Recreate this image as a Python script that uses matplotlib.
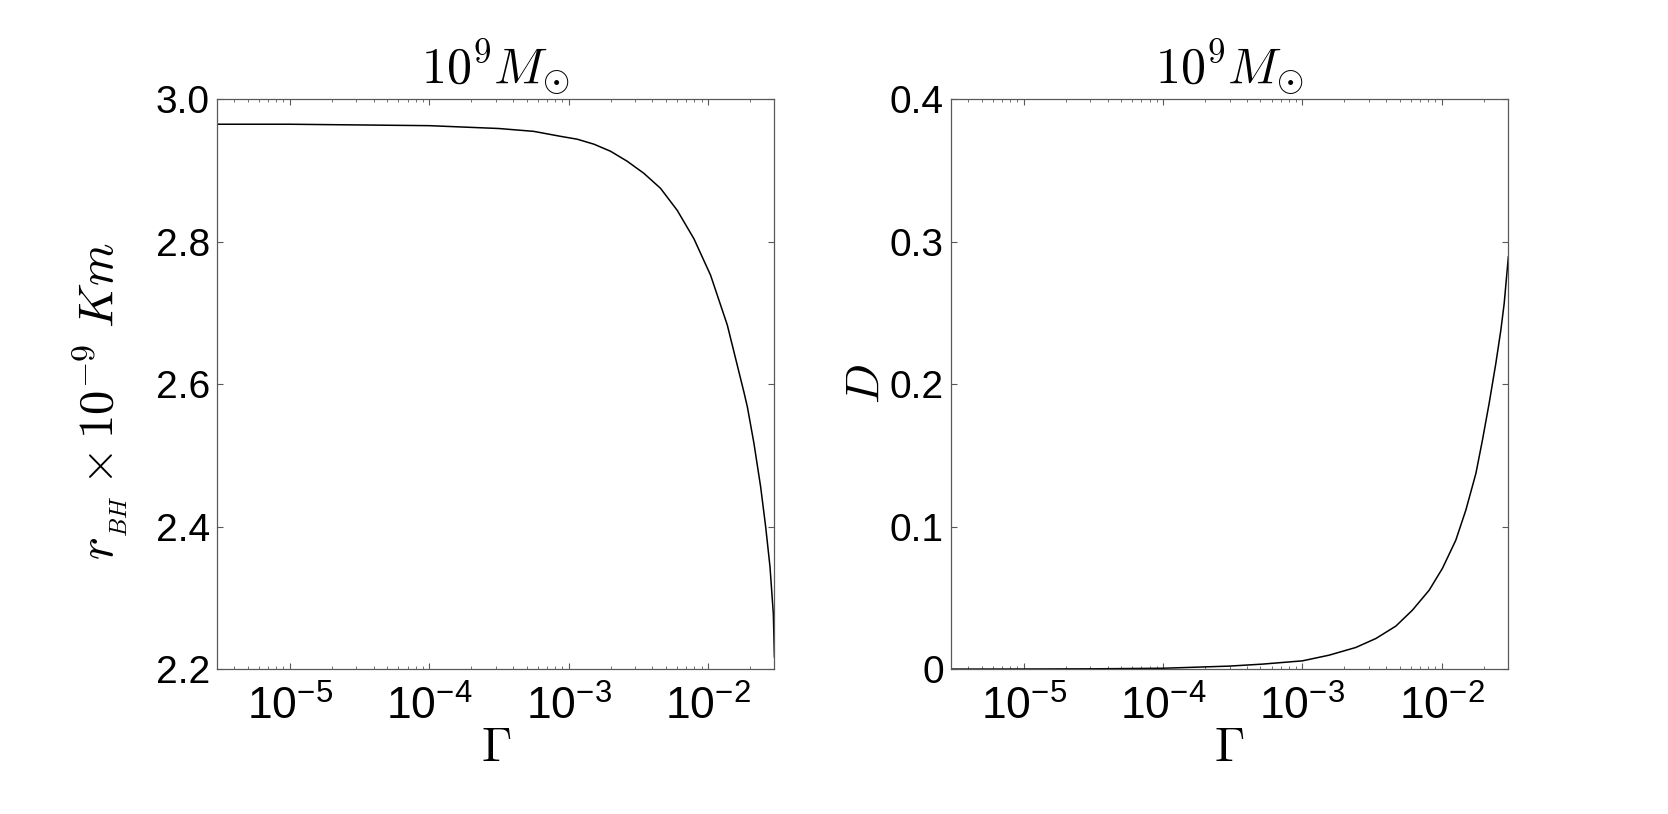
import numpy as np
import matplotlib
matplotlib.use("Agg")
import matplotlib.pyplot as plt

plt.rcParams['font.family'] = ['Liberation Sans', 'DejaVu Sans']
plt.rcParams['mathtext.fontset'] = 'custom'
plt.rcParams['mathtext.rm'] = 'Liberation Sans'
plt.rcParams['mathtext.it'] = 'Liberation Sans:italic'

# values (x given as log10 of Gamma)
log_gamma_r = [-5.523, -5.0, -4.5, -4.0, -3.5, -3.25, -3.057, -2.938, -2.818,
               -2.698, -2.579, -2.459, -2.340, -2.220, -2.100, -1.981,
               -1.861, -1.742, -1.717, -1.670, -1.622, -1.586, -1.555,
               -1.531, -1.523]
r_bh = [2.965, 2.965, 2.964, 2.963, 2.959, 2.955, 2.948, 2.944, 2.937,
        2.927, 2.913, 2.896, 2.875, 2.844, 2.804, 2.753,
        2.683, 2.589, 2.568, 2.517, 2.456, 2.400, 2.344,
        2.278, 2.217]

log_gamma_d = [-5.523, -5.0, -4.5, -4.0, -3.526, -3.287, -3.0, -2.808, -2.617,
               -2.473, -2.330, -2.211, -2.091, -1.996, -1.900, -1.828,
               -1.756, -1.709, -1.661, -1.613, -1.577, -1.553, -1.523]
d_vals = [0.0, 0.00006, 0.0002, 0.0006, 0.0021, 0.0035, 0.0058, 0.0098, 0.0152,
          0.0215, 0.0302, 0.0414, 0.0554, 0.0707, 0.0905, 0.1116,
          0.1373, 0.1607, 0.1865, 0.2145, 0.2379, 0.2566, 0.2894]

xticks = [1e-5, 1e-4, 1e-3, 1e-2]
xticklabels = [r'$\mathregular{10^{-5}}$', r'$\mathregular{10^{-4}}$',
               r'$\mathregular{10^{-3}}$', r'$\mathregular{10^{-2}}$']
r_ticks = [2.2, 2.4, 2.6, 2.8, 3.0]
r_ticklabels = ['2.2', '2.4', '2.6', '2.8', '3.0']
d_ticks = [0.0, 0.1, 0.2, 0.3, 0.4]
d_ticklabels = ['0', '0.1', '0.2', '0.3', '0.4']

title = r'$10^9M_{\odot}$'

fig = plt.figure(figsize=(16.68, 8.14), dpi=100)
ax1 = fig.add_axes([0.130, 0.178, 0.3343, 0.700])
ax2 = fig.add_axes([0.570, 0.178, 0.3343, 0.700])


def style(ax):
    ax.set_xscale('log')
    ax.set_xlim(3e-6, 3e-2)
    ax.set_xticks(xticks)
    ax.set_xticklabels(xticklabels)
    ax.tick_params(which='both', direction='in', top=True, right=True,
                   color='0.35', labelsize=28)
    ax.tick_params(which='major', length=4.5, width=0.8)
    ax.tick_params(which='minor', length=2.5, width=0.6)
    ax.tick_params(axis='x', pad=12, labelsize=32)
    ax.tick_params(axis='y', pad=5)
    for s in ax.spines.values():
        s.set_color('0.35')
        s.set_linewidth(0.9)
    ax.set_title(title, fontsize=36, math_fontfamily='cm', pad=12)
    ax.set_xlabel(r'$\Gamma$', fontsize=35, math_fontfamily='cm')
    ax.xaxis.set_label_coords(0.5, -0.10)


ax1.plot(10 ** np.array(log_gamma_r), r_bh, color='black', lw=1.1)
style(ax1)
ax1.set_ylim(2.2, 3.0)
ax1.set_yticks(r_ticks)
ax1.set_yticklabels(r_ticklabels)
ax1.set_ylabel(r'$r_{_{BH}}\times10^{-9}\ Km$', fontsize=35,
               math_fontfamily='cm')
ax1.yaxis.set_label_coords(-0.155, 0.47)

ax2.plot(10 ** np.array(log_gamma_d), d_vals, color='black', lw=1.1)
style(ax2)
ax2.set_ylim(0, 0.4)
ax2.set_yticks(d_ticks)
ax2.set_yticklabels(d_ticklabels)
ax2.set_ylabel(r'$D$', fontsize=34, math_fontfamily='cm')
ax2.yaxis.set_label_coords(-0.112, 0.5)

fig.savefig('out.png', dpi=100)
